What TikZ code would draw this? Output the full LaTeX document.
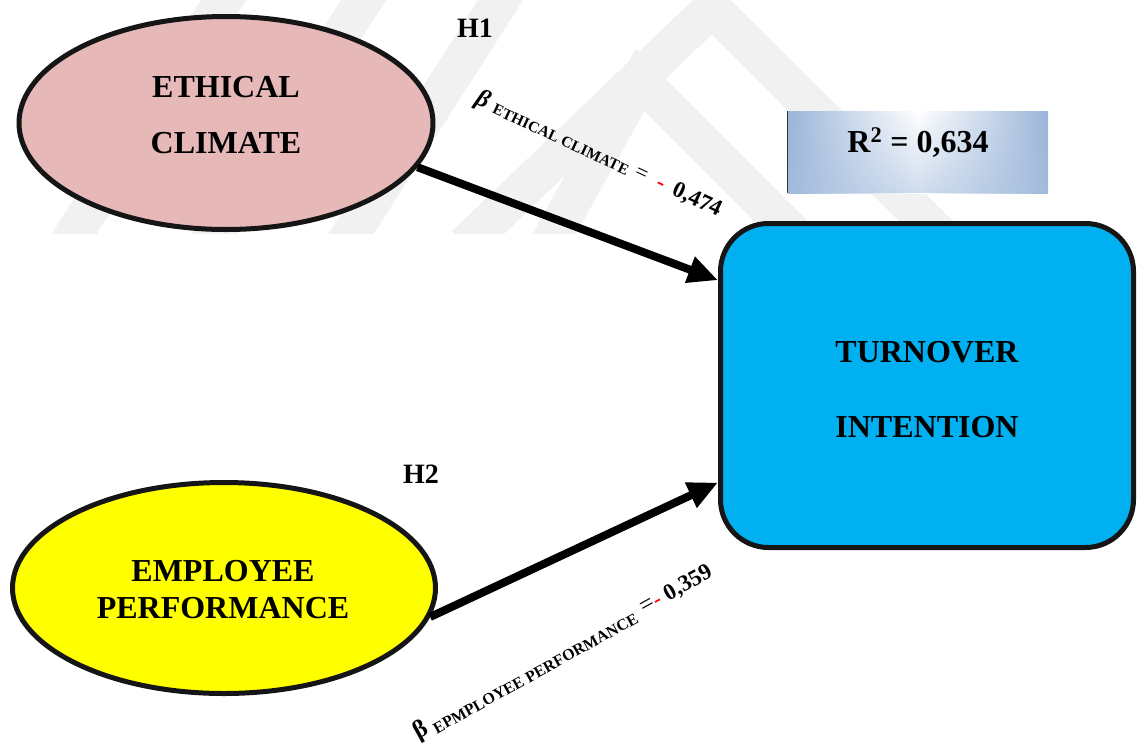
\documentclass[tikz,border=0pt]{standalone}
\usepackage{fontspec}
\setmainfont{Liberation Serif}
\usetikzlibrary{arrows.meta,shapes.geometric,calc,fadings}
\definecolor{pinkfill}{HTML}{E6B8B7}
\definecolor{yellowfill}{HTML}{FFFF00}
\definecolor{cyanbox}{HTML}{00B0F0}
\definecolor{rbA}{HTML}{4A7BBA}
\definecolor{rbB}{HTML}{A9C0E0}
\definecolor{wm}{HTML}{F1F1F1}
\definecolor{edge}{HTML}{151515}
\pgfdeclarehorizontalshading{rtwo}{100bp}{color(0bp)=(rbA); color(15bp)=(rbA!80!white); color(36bp)=(rbA!30!white); color(50bp)=(white); color(64bp)=(rbA!30!white); color(85bp)=(rbA!80!white); color(100bp)=(rbA)}
\tikzset{
  big/.style={font=\fontsize{32}{32}\selectfont\bfseries, inner sep=0pt, anchor=base},
  hyp/.style={font=\fontsize{28}{28}\selectfont\bfseries, inner sep=0pt, anchor=base},
  ell/.style={ellipse, draw=edge, line width=5pt, inner sep=0pt},
  conn/.style={line width=8pt, -{Triangle[length=30pt,width=26pt]}},
  wmband/.style={draw=wm, line width=38pt, miter limit=10},
  beta/.style={inner sep=0pt, anchor=base west}
}
\begin{document}
\begin{tikzpicture}[x=1pt,y=-1pt]
\useasboundingbox (0,0) rectangle (1138,745);
% faint watermark
\begin{scope}
  \clip (0,0) rectangle (1138,233);
  \draw[wmband] (67,245) -- (230,-10);
  \draw[wmband] (207,245) -- (370,-10);
  \draw[wmband] (344,245) -- (507,-10);
  \draw[wmband] (465,245) -- (712,8) -- (950,245);
  \draw[wmband] (548,245) -- (640,80) -- (805,245);
\end{scope}
% nodes
\node[ell, fill=pinkfill, minimum width=414pt, minimum height=213pt] (ec) at (226,123) {};
\node[big] (ect1) at (226,97) {ETHICAL};
\node[big] (ect2) at (226,153) {CLIMATE};
\node[ell, fill=yellowfill, minimum width=423pt, minimum height=211pt] (ep) at (224,588) {};
\node[big] (ept1) at (223,581) {EMPLOYEE};
\node[big] (ept2) at (223,618) {PERFORMANCE};
\node[draw=edge, line width=5pt, fill=cyanbox, rounded corners=48pt, minimum width=413pt, minimum height=324pt, inner sep=0pt] (ti) at (927,385.5) {};
\node[big] (tit1) at (927,362) {TURNOVER};
\node[big] (tit2) at (927,437) {INTENTION};
\node[shading=rtwo, minimum width=260pt, minimum height=82pt, inner sep=0pt] (r2box) at (918,152) {};
\fill[rbB, path fading=north, fill opacity=0.55] (r2box.north west) rectangle (r2box.south east);
\draw[black!80, line width=1.2pt] (r2box.north west) -- (r2box.south west);
\node[big] (r2t) at (918,152) {R\textsuperscript{2} = 0,634};
\node[hyp] (h1) at (475,37) {H1};
\node[hyp] (h2) at (421,483) {H2};
% connectors
\draw[conn] (ec.-13) -- ($(ti.north west)!0.18!(ti.south west)$);
\draw[conn] (ep.-8) -- ($(ti.north west)!0.795!(ti.south west)$);
% coefficient labels
\node[beta, rotate=-25] (b1) at (474,103) {{\fontsize{25}{25}\selectfont\bfseries\itshape β}\hspace{7pt}\raisebox{-1.5pt}{\fontsize{15.5}{15}\selectfont\bfseries ETHICAL CLIMATE}\hspace{7pt}\raisebox{1pt}{\fontsize{22}{22}\selectfont =}\hspace{12pt}{\fontsize{23}{23}\selectfont\bfseries\color{red}-}\hspace{10pt}{\fontsize{23}{23}\selectfont\bfseries 0,474}};
\node[beta, rotate=29] (b2) at (418,740) {{\fontsize{25}{25}\selectfont\bfseries β}\hspace{6pt}\raisebox{-4pt}{\fontsize{16}{15}\selectfont\bfseries EPMPLOYEE PERFORMANCE}\hspace{8pt}{\fontsize{25}{25}\selectfont =}{\fontsize{22}{22}\selectfont\bfseries\color{red}-}\hspace{6pt}{\fontsize{23}{23}\selectfont\bfseries 0,359}};
\end{tikzpicture}
\end{document}
